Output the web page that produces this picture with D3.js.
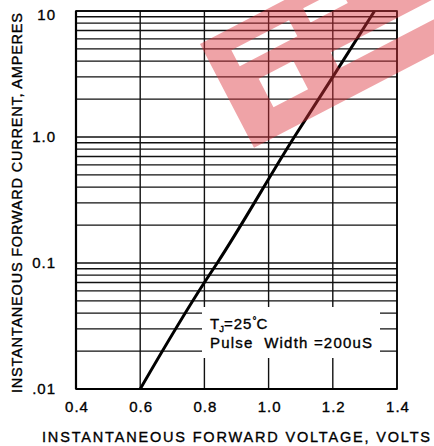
<!DOCTYPE html>
<html><head><meta charset="utf-8">
<script src="https://cdn.jsdelivr.net/npm/d3@7"></script>
<style>html,body{margin:0;padding:0;background:#fff;} svg{display:block;} text{stroke:#000;stroke-width:0.35px;}</style>
</head><body><svg id="c" width="434" height="446"></svg>
<script>
const voltageTicks = [0.4, 0.6, 0.8, 1.0, 1.2, 1.4];
const voltageTickLabels = ["0.4", "0.6", "0.8", "1.0", "1.2", "1.4"];
const currentTicks = [0.01, 0.1, 1, 10];
const currentTickLabels = [".01", "0.1", "1.0", "10"];
const curveVoltage = [0.60, 0.80, 0.84, 1.08, 1.20, 1.33];
const curveCurrent = [0.01, 0.07, 0.1, 1.0, 3.0, 10];
const xTitle = "INSTANTANEOUS FORWARD VOLTAGE, VOLTS";
const yTitle = "INSTANTANEOUS FORWARD CURRENT, AMPERES";
const noteLine1 = ["T", "J", "=25", "°", "C"];
const noteLine2 = "Pulse  Width =200uS";

const svg = d3.select("#c");
const FONT = "'Liberation Sans', Arial, sans-serif";
const L = 76, R = 397, T = 11, B = 389;
const x = d3.scaleLinear().domain([0.4, 1.4]).range([L, R]);
const y = d3.scaleLog().domain([0.01, 10]).range([B, T]);

// horizontal log grid
const g = svg.append("g");
g.selectAll("line.h").data(y.ticks()).join("line")
  .attr("x1", L).attr("x2", R)
  .attr("y1", d => y(d)).attr("y2", d => y(d))
  .attr("stroke", "#111").attr("stroke-width", 1.3);
g.selectAll("line.v").data(voltageTicks).join("line")
  .attr("y1", T).attr("y2", B)
  .attr("x1", d => x(d)).attr("x2", d => x(d))
  .attr("stroke", "#111").attr("stroke-width", 1.4);

// frame
svg.append("rect").attr("x", L).attr("y", T).attr("width", R - L).attr("height", B - T)
  .attr("fill", "none").attr("stroke", "#000").attr("stroke-width", 1.6);
svg.append("line").attr("x1", L).attr("x2", L).attr("y1", T).attr("y2", B).attr("stroke", "#000").attr("stroke-width", 2.2);
svg.append("line").attr("x1", L).attr("x2", R).attr("y1", B).attr("y2", B).attr("stroke", "#000").attr("stroke-width", 2.2);

// note box
svg.append("rect").attr("x", 202).attr("y", 307).attr("width", 178).attr("height", 51).attr("fill", "#fff");

// curve
const line = d3.line().x((d, i) => x(curveVoltage[i])).y(d => y(d)).curve(d3.curveMonotoneY);
svg.append("path").datum(curveCurrent).attr("d", line)
  .attr("fill", "none").attr("stroke", "#000").attr("stroke-width", 3).attr("stroke-linecap", "butt");

// tick labels
svg.selectAll("text.xt").data(voltageTicks).join("text")
  .attr("x", d => x(d) + 1).attr("y", 412).attr("text-anchor", "middle")
  .attr("font-family", FONT).attr("font-size", 15).attr("letter-spacing", 1)
  .text((d, i) => voltageTickLabels[i]);
svg.selectAll("text.yt").data(currentTicks).join("text")
  .attr("x", 56).attr("y", d => Math.max(y(d) + 5, 20)).attr("text-anchor", "end")
  .attr("font-family", FONT).attr("font-size", 15).attr("letter-spacing", 1)
  .text((d, i) => currentTickLabels[i]);

// axis titles
svg.append("text").attr("x", 42).attr("y", 442)
  .attr("font-family", FONT).attr("font-size", 14.5)
  .attr("textLength", 388).attr("lengthAdjust", "spacing").text(xTitle);
svg.append("text").attr("transform", "translate(22,393) rotate(-90)")
  .attr("font-family", FONT).attr("font-size", 14.5)
  .attr("textLength", 380).attr("lengthAdjust", "spacing").text(yTitle);

// note
const n1 = svg.append("text").attr("x", 210).attr("y", 329)
  .attr("font-family", FONT).attr("font-size", 15);
n1.append("tspan").text(noteLine1[0]);
n1.append("tspan").attr("font-size", 9.5).attr("dy", 3).text(noteLine1[1]);
n1.append("tspan").attr("dy", -3).attr("letter-spacing", 1).text(noteLine1[2]);
n1.append("tspan").attr("font-size", 10).attr("dy", -5).text(noteLine1[3]);
n1.append("tspan").attr("dy", 5).text(noteLine1[4]);
svg.append("text").attr("x", 210).attr("y", 348)
  .attr("font-family", FONT).attr("font-size", 15)
  .attr("textLength", 162).attr("lengthAdjust", "spacing")
  .style("white-space", "pre").text(noteLine2);

// watermark (semi-transparent logo)
const rect = (u0, v0, u1, v1) => `M${u0},${v0}H${u1}V${v1}H${u0}Z`;
const wm = [rect(0, 0, 330, 117), rect(25, 20, 90, 38), rect(36, 58, 75, 90),
            rect(108, 16, 150, 32), rect(112, 68, 329, 86)].join("");
svg.append("path").attr("d", wm).attr("fill-rule", "evenodd")
  .attr("transform", "translate(200,44) rotate(-27.5)")
  .attr("fill", "rgb(220,50,60)").attr("fill-opacity", 0.45);
</script></body></html>
